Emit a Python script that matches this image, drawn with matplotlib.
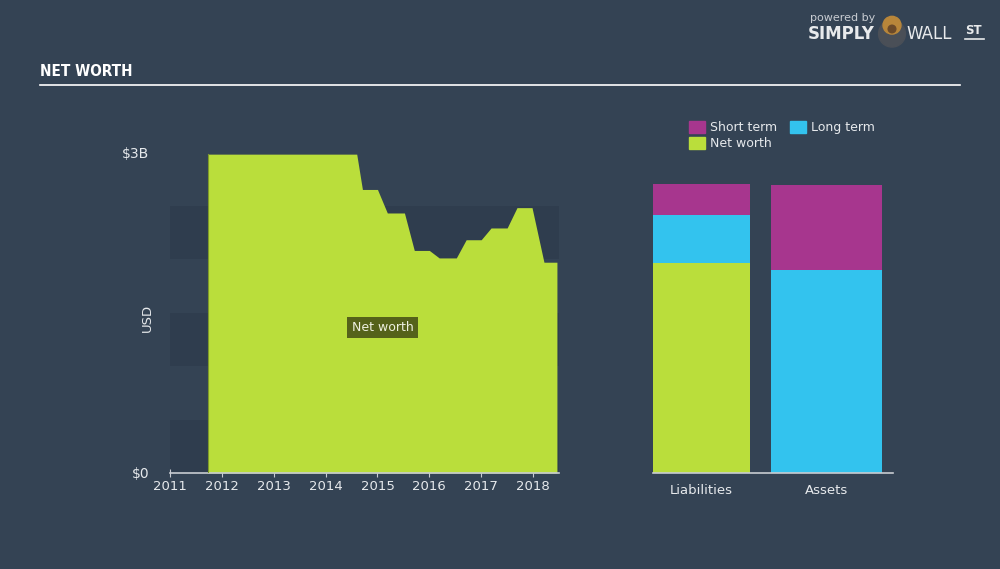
import matplotlib.pyplot as plt
from matplotlib.patches import Rectangle, Circle
from matplotlib import font_manager

# ----- ----- DATA ----- -----
# net worth history (year, USD billions)
nw_years = [2011.73, 2014.60, 2014.71, 2015.00, 2015.19, 2015.52, 2015.71,
            2016.00, 2016.19, 2016.52, 2016.71, 2017.00, 2017.19, 2017.50,
            2017.69, 2017.98, 2018.21, 2018.46]
nw_values = [2.98, 2.98, 2.65, 2.65, 2.43, 2.43, 2.08,
             2.08, 2.01, 2.01, 2.18, 2.18, 2.29, 2.29,
             2.48, 2.48, 1.97, 1.97]
year_ticks = [2011, 2012, 2013, 2014, 2015, 2016, 2017, 2018]

# balance sheet (USD billions)
bar_labels = ['Liabilities', 'Assets']
short_term = [0.29, 0.79]
long_term = [0.45, 1.90]
net_worth = [1.96, 0.0]

# ----- ----- STYLE ----- -----
BG = '#344354'
BAND = '#2f3d4e'
GREEN = '#bade3b'
MAGENTA = '#a7368e'
CYAN = '#33c3ee'
TXT = '#e6e9ec'
AXIS = '#c8ccd2'
W, H = 1000, 569


def px(x0, y0, x1, y1):
    # pixel box (top-left origin) -> figure fraction rect
    return [x0 / W, 1 - y1 / H, (x1 - x0) / W, (y1 - y0) / H]


names = {f.name for f in font_manager.fontManager.ttflist}
title_family = 'DejaVu Sans'
title_size = 11
for cand in ['Liberation Sans Narrow', 'DejaVu Sans Condensed']:
    if cand in names:
        title_family = cand
        title_size = 13
        break

fig = plt.figure(figsize=(10, 5.69), dpi=100, facecolor=BG)

# ----- ----- HEADER ----- -----
fig.text(40 / W, 1 - 71 / H, 'NET WORTH', color='white', fontsize=title_size,
         fontweight='bold', fontstretch='condensed', va='center', ha='left',
         family=title_family)
fig.add_artist(plt.Line2D([40 / W, 960 / W], [1 - 85 / H, 1 - 85 / H],
                          color='white', lw=1.2))

# logo
fig.text(810 / W, 1 - 18 / H, 'powered by', color='#c8ccd2', fontsize=8,
         va='center', ha='left')
fig.text(808 / W, 1 - 34 / H, 'SIMPLY', color='#e8eaec', fontsize=12,
         fontweight='bold', va='center', ha='left')
fig.text(906 / W, 1 - 34 / H, 'WALL', color='#e8eaec', fontsize=12,
         va='center', ha='left')
fig.text(965 / W, 1 - 31 / H, 'ST', color='#e8eaec', fontsize=8.5,
         fontweight='bold', va='center', ha='left')
fig.add_artist(plt.Line2D([965 / W, 984 / W], [1 - 39 / H, 1 - 39 / H],
                          color='#e8eaec', lw=1.2))
logo_ax = fig.add_axes(px(876, 10, 908, 48))
logo_ax.set_xlim(0, 1)
logo_ax.set_ylim(0, 1.2)
logo_ax.axis('off')
logo_ax.add_patch(Circle((0.5, 0.45), 0.42, color='#4a4f57'))
logo_ax.add_patch(Circle((0.5, 0.72), 0.28, color='#b8863a'))
logo_ax.add_patch(Circle((0.5, 0.6), 0.12, color='#6b4a2a'))

# ----- ----- LEFT CHART ----- -----
ax = fig.add_axes(px(170, 152, 559, 473))
ax.set_facecolor(BG)
ax.set_xlim(2011, 2018.5)
ax.set_ylim(0, 3.0)
for lo in [0.0, 1.0, 2.0]:
    ax.axhspan(lo, lo + 0.5, color=BAND, lw=0, zorder=0)
ax.fill_between(nw_years, nw_values, 0, color=GREEN, lw=0, zorder=2)
ax.plot([nw_years[0], nw_years[0]], [0, nw_values[0]], color='#7f9a2a',
        lw=0.8, zorder=3)

for s in ['top', 'right', 'left']:
    ax.spines[s].set_visible(False)
ax.spines['bottom'].set_color(AXIS)
ax.spines['bottom'].set_linewidth(1.2)
ax.set_xticks(year_ticks)
ax.set_xticklabels([str(y) for y in year_ticks])
ax.tick_params(axis='x', colors=AXIS, labelcolor=TXT, labelsize=9.5,
               length=6, direction='inout', pad=2)
ax.set_yticks([0, 3.0])
ax.set_yticklabels(['$0', '$3B'])
ax.tick_params(axis='y', length=0, labelcolor=TXT, labelsize=10, pad=15)
fig.text(147 / W, 1 - 318 / H, 'USD', color=TXT, fontsize=9.5,
         rotation=90, ha='center', va='center')

ax.text(2015.1, 1.36, 'Net worth', color='#eef0e0', fontsize=9,
        ha='center', va='center', zorder=5,
        bbox=dict(boxstyle='square,pad=0.35', fc='#55621a', ec='none'))

# ----- ----- RIGHT CHART ----- -----
bx = fig.add_axes(px(653, 152, 893, 473))
bx.set_facecolor(BG)
bx.set_xlim(0, 2.40)
bx.set_ylim(0, 3.0)
lefts = [0.0, 1.18]
widths = [0.97, 1.11]
bottom2 = [net_worth[i] + long_term[i] for i in range(2)]
bx.bar(lefts, net_worth, width=widths, align='edge', color=GREEN, lw=0)
bx.bar(lefts, long_term, width=widths, bottom=net_worth, align='edge',
       color=CYAN, lw=0)
bx.bar(lefts, short_term, width=widths, bottom=bottom2, align='edge',
       color=MAGENTA, lw=0)
for s in ['top', 'right', 'left']:
    bx.spines[s].set_visible(False)
bx.spines['bottom'].set_color(AXIS)
bx.spines['bottom'].set_linewidth(1.2)
bx.set_yticks([])
bx.set_xticks([lefts[i] + widths[i] / 2 for i in range(2)])
bx.set_xticklabels(bar_labels)
bx.tick_params(axis='x', length=0, labelcolor=TXT, labelsize=9.5, pad=8)

# legend
leg = [(689, 121, MAGENTA, 'Short term'), (790, 121, CYAN, 'Long term'),
       (689, 137, GREEN, 'Net worth')]
for x0, y0, c, t in leg:
    fig.add_artist(Rectangle((x0 / W, 1 - (y0 + 12) / H), 16 / W, 12 / H,
                             color=c, transform=fig.transFigure))
    fig.text((x0 + 21) / W, 1 - (y0 + 6) / H, t, color=TXT, fontsize=9,
             va='center', ha='left')

fig.savefig('out.png', dpi=100, facecolor=BG)
